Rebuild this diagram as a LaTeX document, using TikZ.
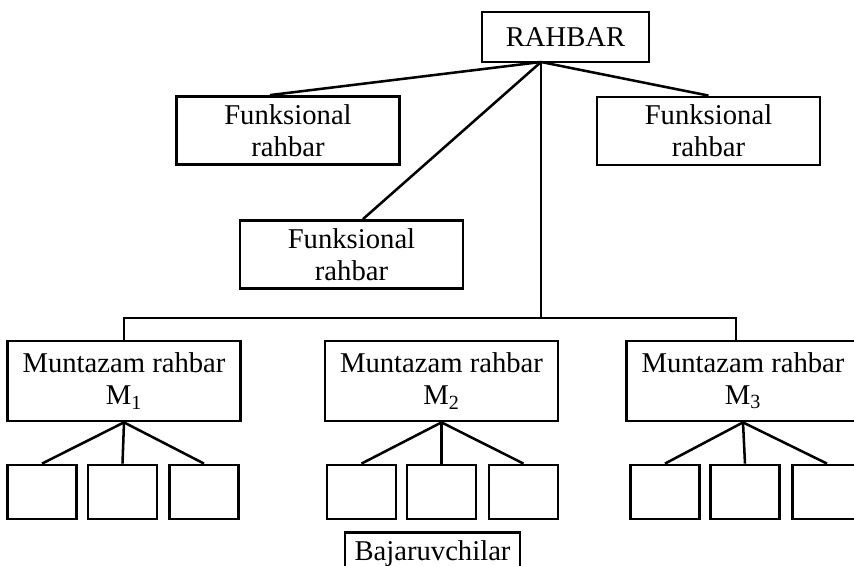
\documentclass[tikz,border=0pt]{standalone}
\usepackage{fontspec}
\setmainfont{Liberation Serif}
\usepackage{tikz}
\usetikzlibrary{positioning}

\begin{document}
\begin{tikzpicture}[
  x=0.75pt, y=-0.75pt,
  box/.style={
    rectangle, draw=black, line width=2.1pt,
    inner sep=0pt, align=center,
    font=\fontsize{21.5}{24}\selectfont
  },
  head/.style={box, minimum width=125.25pt, minimum height=37.5pt},
  func/.style={box, minimum width=167.25pt, minimum height=51pt},
  lead/.style={box, minimum width=174.75pt, minimum height=60pt},
  cell/.style={box, minimum width=51.75pt, minimum height=40.5pt},
  link/.style={line width=1.9pt, black}
]
\useasboundingbox (0,0) rectangle (854,566);
\clip (0,0) rectangle (854,566);

% ---- Top ----
\node[head] (rahbar) at (565.5,37) {RAHBAR};
\coordinate (hub) at (541,62);

% ---- Functional heads ----
\node[func] (fr1) at (288,130.5)   {Funksional\\rahbar};
\node[func] (fr2) at (351.5,254.5) {Funksional\\rahbar};
\node[func] (fr3) at (708.5,131)   {Funksional\\rahbar};

% ---- Line heads ----
\node[lead] (m1) at (124,381)   {Muntazam rahbar\\M\textsubscript{1}};
\node[lead] (m2) at (441.5,381) {Muntazam rahbar\\M\textsubscript{2}};
\node[lead] (m3) at (743,381)   {Muntazam rahbar\\M\textsubscript{3}};

% ---- Executors ----
\node[cell] (m1a) at (42,492)    {};
\node[cell] (m1b) at (122.5,492) {};
\node[cell] (m1c) at (204,492)   {};
\node[cell] (m2a) at (361.5,492) {};
\node[cell] (m2b) at (441.5,492) {};
\node[cell] (m2c) at (523.5,492) {};
\node[cell] (m3a) at (665,492)   {};
\node[cell] (m3b) at (745,492)   {};
\node[cell] (m3c) at (827,492)   {};

\node[box, anchor=north, minimum width=131.25pt, inner ysep=6pt]
     (baj) at (432.5,531) {Bajaruvchilar};

% ---- Lines ----
\draw[link] (hub) -- ([xshift=-13.5pt]fr1.north);
\draw[link] (hub) -- ([xshift=8.6pt]fr2.north);
\draw[link] (hub) -- (fr3.north);

\coordinate (bar) at (541,318);
\draw[link] (hub) -- (bar);
\draw[link] (m1.north) |- (bar) -| ([xshift=-5.25pt]m3.north);

\draw[link] (m1.south) -- (m1a.north);
\draw[link] (m1.south) -- (m1b.north);
\draw[link] (m1.south) -- (m1c.north);
\draw[link] (m2.south) -- (m2a.north);
\draw[link] (m2.south) -- (m2b.north);
\draw[link] (m2.south) -- (m2c.north);
\draw[link] (m3.south) -- (m3a.north);
\draw[link] (m3.south) -- (m3b.north);
\draw[link] (m3.south) -- (m3c.north);

\end{tikzpicture}
\end{document}
